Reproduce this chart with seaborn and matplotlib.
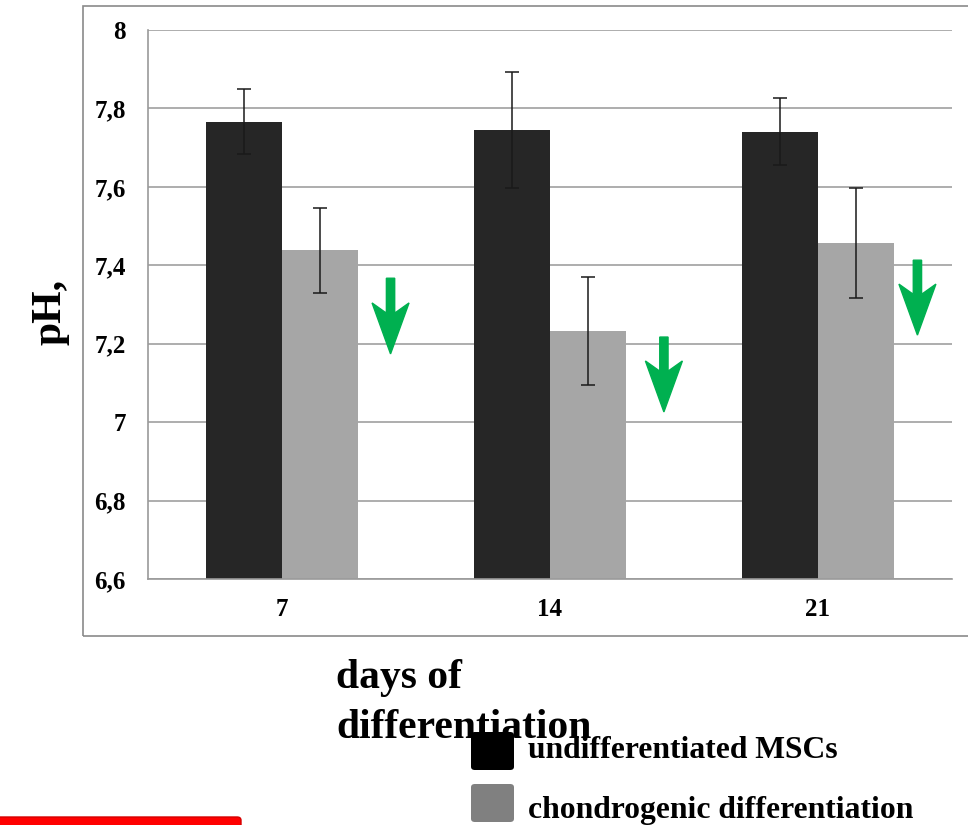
import numpy as np
import pandas as pd
import seaborn as sns
import matplotlib
matplotlib.use("Agg")
import matplotlib.pyplot as plt
import matplotlib.patches as mpatches

# ---- data ----
days = ["7", "14", "21"]
groups = ["undifferentiated MSCs", "chondrogenic differentiation"]
ph_undiff = [7.766, 7.745, 7.741]
ph_chondro = [7.438, 7.232, 7.456]
err_undiff = [0.083, 0.148, 0.085]
err_chondro = [0.109, 0.137, 0.140]
y_ticks = [6.6, 6.8, 7.0, 7.2, 7.4, 7.6, 7.8, 8.0]
y_tick_labels = ["6,6", "6,8", "7", "7,2", "7,4", "7,6", "7,8", "8"]

# decorative green arrows (offset from category centre, top, tip)
arrow_dx = [0.405, 0.425, 0.371]
arrow_top = [7.367, 7.217, 7.413]
arrow_tip = [7.174, 7.026, 7.222]

df = pd.DataFrame({
    "day": days * 2,
    "group": [groups[0]] * 3 + [groups[1]] * 3,
    "ph": ph_undiff + ph_chondro,
})

sns.set_style("white")
plt.rcParams["font.family"] = ["Liberation Serif", "DejaVu Serif"]
plt.rcParams["font.weight"] = "bold"
plt.rcParams["text.color"] = "black"
plt.rcParams["xtick.labelcolor"] = "black"
plt.rcParams["ytick.labelcolor"] = "black"

W, H = 968, 825
fig = plt.figure(figsize=(W / 100, H / 100), dpi=100)
ax = fig.add_axes([148 / W, 1 - 579 / H, (952 - 148) / W, (579 - 30) / H])

bar_colors = ["#262626", "#a6a6a6"]
sns.barplot(data=df, x="day", y="ph", hue="group", order=days, hue_order=groups,
            palette=bar_colors, width=0.567, errorbar=None, legend=False,
            saturation=1, ax=ax, zorder=2, linewidth=0)

errs = [err_undiff, err_chondro]
for cont, e in zip(ax.containers, errs):
    xs = [b.get_x() + b.get_width() / 2 for b in cont]
    hs = [b.get_height() for b in cont]
    ax.errorbar(xs, hs, yerr=e, fmt="none", ecolor="#1a1a1a", elinewidth=1.1,
                capsize=5, capthick=1.1, zorder=3)

ax.set_ylim(6.6, 8.0)
ax.set_xlim(-0.5, 2.5)
ax.set_yticks(y_ticks)
ax.set_yticklabels(y_tick_labels, fontsize=18, fontweight="bold", color="black")
ax.yaxis.grid(True, color="#a0a0a0", linewidth=1.2, zorder=0)
ax.set_axisbelow(True)

# x ticks: marks at category boundaries, labels at centres
ax.set_xticks([-0.5, 0.5, 1.5, 2.5])
ax.set_xticklabels([])
ax.set_xticks([0, 1, 2], minor=True)
ax.set_xticklabels(days, minor=True, fontsize=18, fontweight="bold", color="black")
ax.tick_params(axis="x", which="major", direction="out", length=7, width=1, color="#909090")
ax.tick_params(axis="x", which="minor", length=0, pad=14)
ax.tick_params(axis="y", direction="out", length=7, width=1, color="#909090", pad=9)
ax.set_xlabel("")
ax.set_ylabel("")

for s in ["top", "right"]:
    ax.spines[s].set_visible(False)
for s in ["left", "bottom"]:
    ax.spines[s].set_color("#9a9a9a")
    ax.spines[s].set_linewidth(1.2)

# green arrows
for i in range(3):
    length = arrow_tip[i] - arrow_top[i]
    arr = mpatches.FancyArrow(i + arrow_dx[i], arrow_top[i], 0, length,
                              width=0.031, head_width=0.138, head_length=0.13,
                              length_includes_head=True, overhang=0.2,
                              color="#00b050", zorder=4)
    ax.add_patch(arr)

# y label
fig.text(50 / W, 1 - 312 / H, "pH,", rotation=90, fontsize=30, fontweight="bold",
         ha="center", va="center", color="black")

# x label (two lines)
fig.text(336 / W, 1 - 688 / H, "days of", fontsize=30, fontweight="bold",
         ha="left", va="baseline", color="black")
fig.text(336 / W, 1 - 738 / H, "differentiation", fontsize=30, fontweight="bold",
         ha="left", va="baseline", color="black")

# outer frame
frame = mpatches.Rectangle((83 / W, 1 - 636 / H), 1.0, (636 - 6) / H,
                           transform=fig.transFigure, fill=False,
                           edgecolor="#8a8a8a", linewidth=1.2, clip_on=False)
fig.patches.append(frame)

# legend
leg_colors = ["#000000", "#808080"]
leg_tops = [732, 784]
leg_base = [758, 818]
for c, t, b, lab in zip(leg_colors, leg_tops, leg_base, groups):
    sq = mpatches.FancyBboxPatch((471 / W, 1 - (t + 38) / H), 43 / W, 38 / H,
                                 boxstyle="round,pad=0,rounding_size=0.004",
                                 transform=fig.transFigure, facecolor=c,
                                 edgecolor="none", zorder=10)
    fig.patches.append(sq)
    fig.text(528 / W, 1 - b / H, lab, fontsize=22.8, fontweight="bold",
             ha="left", va="baseline", zorder=11, color="black")

# red bar at bottom left
red = mpatches.FancyBboxPatch((-0.01, -0.02), 0.01 + 241 / W, 0.02 + 8 / H,
                              boxstyle="round,pad=0,rounding_size=0.004",
                              transform=fig.transFigure, facecolor="#ff0000",
                              edgecolor="#d40000", linewidth=1, zorder=10)
fig.patches.append(red)

fig.savefig("out.png", dpi=100)
